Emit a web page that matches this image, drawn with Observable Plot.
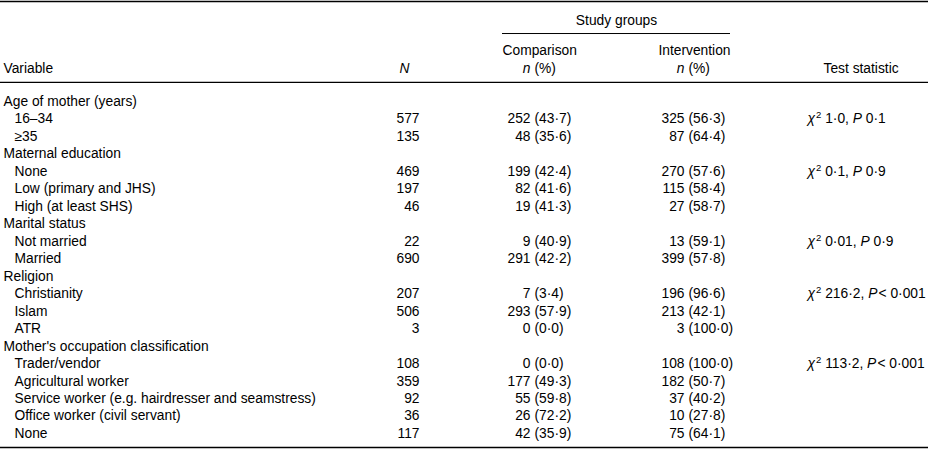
<!DOCTYPE html>
<html>
<head>
<meta charset="utf-8">
<script src="https://cdn.jsdelivr.net/npm/d3@7"></script>
<script src="https://cdn.jsdelivr.net/npm/@observablehq/plot@0.6"></script>
<style>
  html, body { margin: 0; padding: 0; background: #fff; }
  #chart svg { display: block; }
</style>
</head>
<body>
<div id="chart"></div>
<script>
// ---------- DATA ----------
const variables = [
  "Age of mother (years)", "16–34", "≥35",
  "Maternal education", "None", "Low (primary and JHS)", "High (at least SHS)",
  "Marital status", "Not married", "Married",
  "Religion", "Christianity", "Islam", "ATR",
  "Mother's occupation classification", "Trader/vendor", "Agricultural worker",
  "Service worker (e.g. hairdresser and seamstress)", "Office worker (civil servant)", "None"
];
const isGroup = [true, false, false, true, false, false, false, true, false, false,
  true, false, false, false, true, false, false, false, false, false];
const totalN =          [null, 577, 135, null, 469, 197, 46, null, 22, 690, null, 207, 506, 3, null, 108, 359, 92, 36, 117];
const comparisonN =     [null, 252, 48, null, 199, 82, 19, null, 9, 291, null, 7, 293, 0, null, 0, 177, 55, 26, 42];
const comparisonPct =   [null, 43.7, 35.6, null, 42.4, 41.6, 41.3, null, 40.9, 42.2, null, 3.4, 57.9, 0.0, null, 0.0, 49.3, 59.8, 72.2, 35.9];
const interventionN =   [null, 325, 87, null, 270, 115, 27, null, 13, 399, null, 196, 213, 3, null, 108, 182, 37, 10, 75];
const interventionPct = [null, 56.3, 64.4, null, 57.6, 58.4, 58.7, null, 59.1, 57.8, null, 96.6, 42.1, 100.0, null, 100.0, 50.7, 40.2, 27.8, 64.1];
const testRows = [1, 4, 8, 11, 15];
const testChi = ["1·0", "0·1", "0·01", "216·2", "113·2"];
const testP = ["0·1", "0·9", "0·9", "<0·001", "<0·001"];
const groupHeader = "Study groups";
const colHeaders = { variable: "Variable", N: "N", comparison: "Comparison", intervention: "Intervention", pct: "(%)", n: "n", test: "Test statistic" };

// ---------- LAYOUT ----------
const W = 928, H = 450;
const FONT = "'Liberation Sans', Arial, Helvetica, sans-serif";
const FS = 13.8;
const col = { group: 3, indent: 14, N: 419, Nhead: 409, compParen: 534, intParen: 688, gap: 4,
  compHead: 502, intHead: 730, studyMid: 616, test: 807, testHead: 823 };
// header positions in row units (row 0 = first body row)
const hdr = { top: -5.72, study: -4.64, studyRule: -3.89, sub1: -2.92, sub2: -1.89, headRule: -1.09, bottom: 19.8 };

const dec = v => v.toFixed(1).replace(".", "·");
const rows = variables.map((label, i) => ({
  i, label, group: isGroup[i], N: totalN[i],
  cN: comparisonN[i], cP: comparisonPct[i], iN: interventionN[i], iP: interventionPct[i]
}));
const body = rows.filter(d => d.N != null);
const tests = testRows.map((r, k) => ({
  i: r,
  text: "χ2 " + testChi[k] + ", P" + (testP[k].startsWith("<") ? "\u200A< " + testP[k].slice(1) : " " + testP[k])
}));

const txt = (data, opts) => Plot.text(data, { fontSize: FS, fill: "#000", ...opts });

const plot = Plot.plot({
  width: W, height: H,
  margin: 0,
  x: { type: "linear", domain: [0, W], range: [0, W], axis: null },
  y: { type: "linear", domain: [0, 19], range: [101, 433], axis: null },
  style: { fontFamily: FONT, fontSize: FS + "px", background: "#fff", color: "#000" },
  marks: [
    // rules
    Plot.ruleY([hdr.top], { x1: 0, x2: W, stroke: "#000", strokeWidth: 1.6 }),
    Plot.ruleY([hdr.headRule], { x1: 0, x2: W, stroke: "#000", strokeWidth: 1.3 }),
    Plot.ruleY([hdr.bottom], { x1: 0, x2: W, stroke: "#000", strokeWidth: 1.6 }),
    Plot.ruleY([hdr.studyRule], { x1: col.compHead, x2: col.intHead, stroke: "#000", strokeWidth: 1 }),
    // header text
    txt([groupHeader], { x: () => col.studyMid, y: () => hdr.study, text: d => d, textAnchor: "middle" }),
    txt([colHeaders.comparison], { x: () => col.compHead, y: () => hdr.sub1, text: d => d, textAnchor: "start" }),
    txt([colHeaders.intervention], { x: () => col.intHead, y: () => hdr.sub1, text: d => d, textAnchor: "end" }),
    txt([colHeaders.variable], { x: () => col.group, y: () => hdr.sub2, text: d => d, textAnchor: "start" }),
    txt([colHeaders.N], { x: () => col.Nhead, y: () => hdr.sub2, text: d => d, textAnchor: "end", fontStyle: "italic" }),
    txt([col.compParen, col.intParen], { x: d => d - col.gap, y: () => hdr.sub2, text: () => colHeaders.n, textAnchor: "end", fontStyle: "italic" }),
    txt([col.compParen, col.intParen], { x: d => d, y: () => hdr.sub2, text: () => colHeaders.pct, textAnchor: "start" }),
    txt([colHeaders.test], { x: () => col.testHead, y: () => hdr.sub2, text: d => d, textAnchor: "start" }),
    // body
    txt(rows, { x: d => d.group ? col.group : col.indent, y: "i", text: "label", textAnchor: "start" }),
    txt(body, { x: () => col.N, y: "i", text: d => String(d.N), textAnchor: "end" }),
    txt(body, { x: () => col.compParen - col.gap, y: "i", text: d => String(d.cN), textAnchor: "end" }),
    txt(body, { x: () => col.compParen, y: "i", text: d => "(" + dec(d.cP) + ")", textAnchor: "start" }),
    txt(body, { x: () => col.intParen - col.gap, y: "i", text: d => String(d.iN), textAnchor: "end" }),
    txt(body, { x: () => col.intParen, y: "i", text: d => "(" + dec(d.iP) + ")", textAnchor: "start" }),
    txt(tests, { x: () => col.test, y: "i", text: "text", textAnchor: "start" })
  ]
});

// Rich formatting of test statistic: italic χ with superscript 2, italic P
d3.select(plot).selectAll("text").each(function () {
  const t = this.textContent;
  const m = t.match(/^χ2 (\S+), P(.*)$/);
  if (!m) return;
  this.textContent = "";
  const s = d3.select(this);
  s.append("tspan").attr("font-style", "italic").text("χ");
  s.append("tspan").attr("font-size", 9.5).attr("dx", 1).attr("dy", -5).text("2");
  s.append("tspan").attr("dy", 5).text("\u00A0" + m[1] + ",\u00A0");
  s.append("tspan").attr("font-style", "italic").text("P");
  s.append("tspan").text(m[2]);
});

document.getElementById("chart").appendChild(plot);
</script>
</body>
</html>
